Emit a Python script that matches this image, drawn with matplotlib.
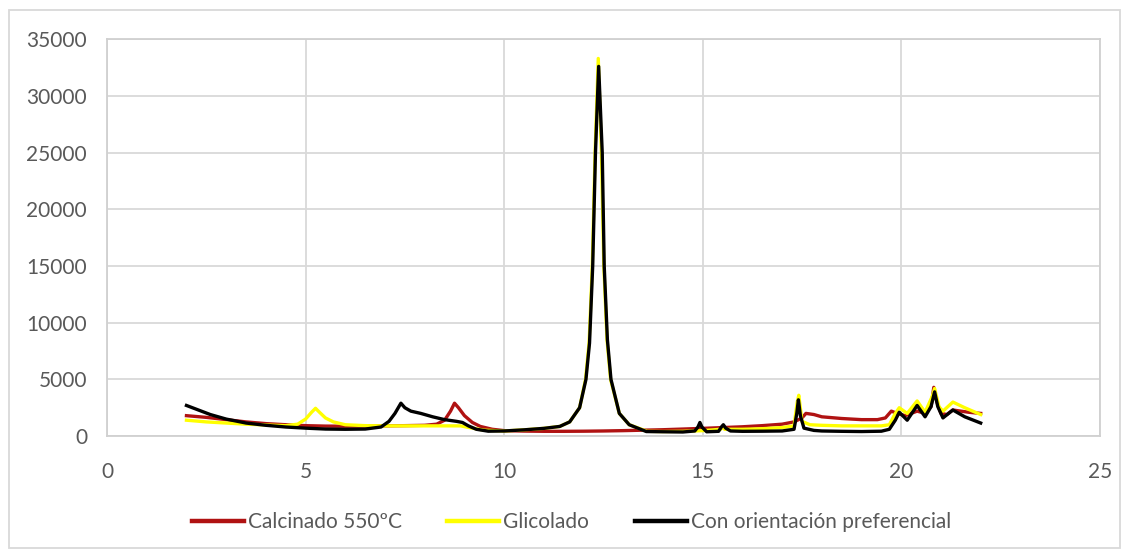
import matplotlib.pyplot as plt
from matplotlib.lines import Line2D
from matplotlib.patches import Rectangle

# 2-theta positions and counts for each pattern
x_calc = [2.0, 2.5, 3.0, 3.5, 4.0, 4.5, 5.0, 5.5, 6.0, 6.5, 7.0, 7.5, 8.0, 8.3, 8.5, 8.65, 8.75,
          8.85, 9.0, 9.2, 9.4, 9.7, 10.0, 10.5, 11.0, 11.5, 12.0, 12.5, 13.0, 13.5, 14.0, 14.5,
          15.0, 15.5, 16.0, 16.5, 17.0, 17.3, 17.5, 17.6, 17.8, 18.0, 18.5, 19.0, 19.4, 19.6,
          19.75, 19.9, 20.1, 20.4, 20.6, 20.75, 20.82, 20.9, 21.0, 21.15, 21.3, 21.5, 21.7, 22.0]
y_calc = [1800, 1650, 1450, 1250, 1100, 1000, 920, 880, 870, 880, 900, 920, 950, 1050, 1400, 2200, 2900,
          2500, 1800, 1200, 850, 600, 480, 440, 420, 420, 430, 450, 480, 520, 560, 620,
          680, 750, 820, 920, 1050, 1250, 1600, 2000, 1900, 1700, 1550, 1450, 1450, 1600,
          2200, 2000, 1800, 2200, 2000, 2600, 4300, 3000, 2000, 1900, 2300, 2200, 2100, 2000]

x_glic = [2.0, 2.5, 3.0, 3.5, 4.0, 4.5, 4.8, 5.0, 5.15, 5.25, 5.35, 5.5, 5.7, 6.0, 6.5, 7.0, 7.5,
          8.0, 8.5, 8.9, 9.2, 9.5, 10.0, 10.5, 11.0, 11.4, 11.65, 11.9, 12.05, 12.14, 12.22, 12.29,
          12.37, 12.45, 12.51, 12.59, 12.68, 12.9, 13.15, 13.6, 14.0, 14.5, 15.0, 15.45, 15.5,
          15.55, 16.0, 16.5, 17.0, 17.3, 17.38, 17.42, 17.5, 17.7, 18.0, 18.5, 19.0, 19.5, 19.7,
          19.85, 19.95, 20.15, 20.4, 20.6, 20.78, 20.84, 20.95, 21.05, 21.3, 21.6, 22.0]
y_glic = [1400, 1250, 1150, 1050, 980, 920, 1050, 1500, 2100, 2450, 2100, 1600, 1250, 1000, 920, 900, 900,
          900, 900, 900, 700, 520, 450, 550, 680, 850, 1250, 2500, 5000, 8300, 15000, 25000,
          33300, 25000, 15000, 8500, 5000, 2000, 1000, 420, 400, 420, 480, 600, 850,
          600, 600, 650, 750, 900, 3000, 3600, 1300, 1000, 950, 900, 900, 900, 1000,
          2000, 2500, 2000, 3100, 2100, 3500, 4200, 2600, 2200, 3000, 2500, 1900]

x_orient = [2.0, 2.3, 2.6, 3.0, 3.5, 4.0, 4.5, 5.0, 5.5, 6.0, 6.5, 6.9, 7.1, 7.25, 7.4, 7.5, 7.65,
            7.9, 8.2, 8.5, 8.8, 8.95, 9.1, 9.3, 9.6, 10.0, 10.5, 11.0, 11.4, 11.65, 11.9, 12.06,
            12.15, 12.23, 12.3, 12.38, 12.47, 12.52, 12.6, 12.69, 12.9, 13.15, 13.58, 14.0,
            14.5, 14.8, 14.88, 14.93, 14.98, 15.1, 15.4, 15.47, 15.52, 15.58, 15.7, 16.0, 16.5,
            17.0, 17.3, 17.37, 17.41, 17.46, 17.55, 17.8, 18.0, 18.5, 19.0, 19.5, 19.7, 19.85,
            19.95, 20.15, 20.4, 20.6, 20.75, 20.84, 20.92, 21.05, 21.3, 21.6, 22.0]
y_orient = [2700, 2300, 1900, 1500, 1150, 950, 800, 700, 620, 600, 620, 800, 1300, 2000, 2900, 2500, 2200,
            2000, 1700, 1450, 1300, 1200, 900, 600, 430, 450, 550, 680, 850, 1250, 2500, 5000,
            8200, 15000, 25000, 32600, 25000, 15000, 8500, 5000, 2000, 1000, 400, 380,
            360, 450, 800, 1200, 800, 380, 420, 800, 1000, 700, 450, 420, 430,
            450, 600, 2000, 3200, 1800, 700, 500, 450, 420, 400, 430, 600, 1400,
            2100, 1400, 2700, 1700, 2600, 3900, 2600, 1600, 2300, 1700, 1150]

x_ticks = [0, 5, 10, 15, 20, 25]
y_ticks = [0, 5000, 10000, 15000, 20000, 25000, 30000, 35000]

series = [
    ('Calcinado 550ºC', x_calc, y_calc, '#b01212', 192),
    ('Glicolado', x_glic, y_glic, '#ffff00', 447),
    ('Con orientación preferencial', x_orient, y_orient, '#000000', 635),
]

plt.rcParams['font.family'] = ['Lato', 'DejaVu Sans']

fig = plt.figure(figsize=(11.28, 5.52), dpi=100)
ax = fig.add_axes([0.0949, 0.210, 0.8801, 0.719])

for name, xs, ys, col, _ in series:
    ax.plot(xs, ys, color=col, lw=2.4)

ax.set_xlim(0, 25)
ax.set_ylim(0, 35000)
ax.set_xticks(x_ticks)
ax.set_yticks(y_ticks)
ax.grid(True, color='#d9d9d9', lw=1.3)
ax.set_axisbelow(True)
for s in ax.spines.values():
    s.set_color('#d0d0d0')
    s.set_linewidth(1.3)
ax.tick_params(length=0, labelsize=15, labelcolor='#595959')
ax.tick_params(axis='y', pad=14.4)
ax.tick_params(axis='x', pad=18.5)

# one legend per entry so the gaps follow the original spacing
for name, xs, ys, col, left_px in series:
    h = Line2D([], [], color=col, lw=3.2)
    leg = fig.legend([h], [name], loc='center left', bbox_to_anchor=(left_px / 1128, 1 - 522 / 552),
                     frameon=False, fontsize=15, borderpad=0, borderaxespad=0,
                     handlelength=2.5, handletextpad=0.2)
    leg.get_texts()[0].set_color('#595959')

fig.patches.append(Rectangle((9 / 1128, 4 / 552), 1111 / 1128, 538 / 552, transform=fig.transFigure,
                             fill=False, edgecolor='#d9d9d9', lw=1.3))

fig.savefig('out.png', dpi=100)
